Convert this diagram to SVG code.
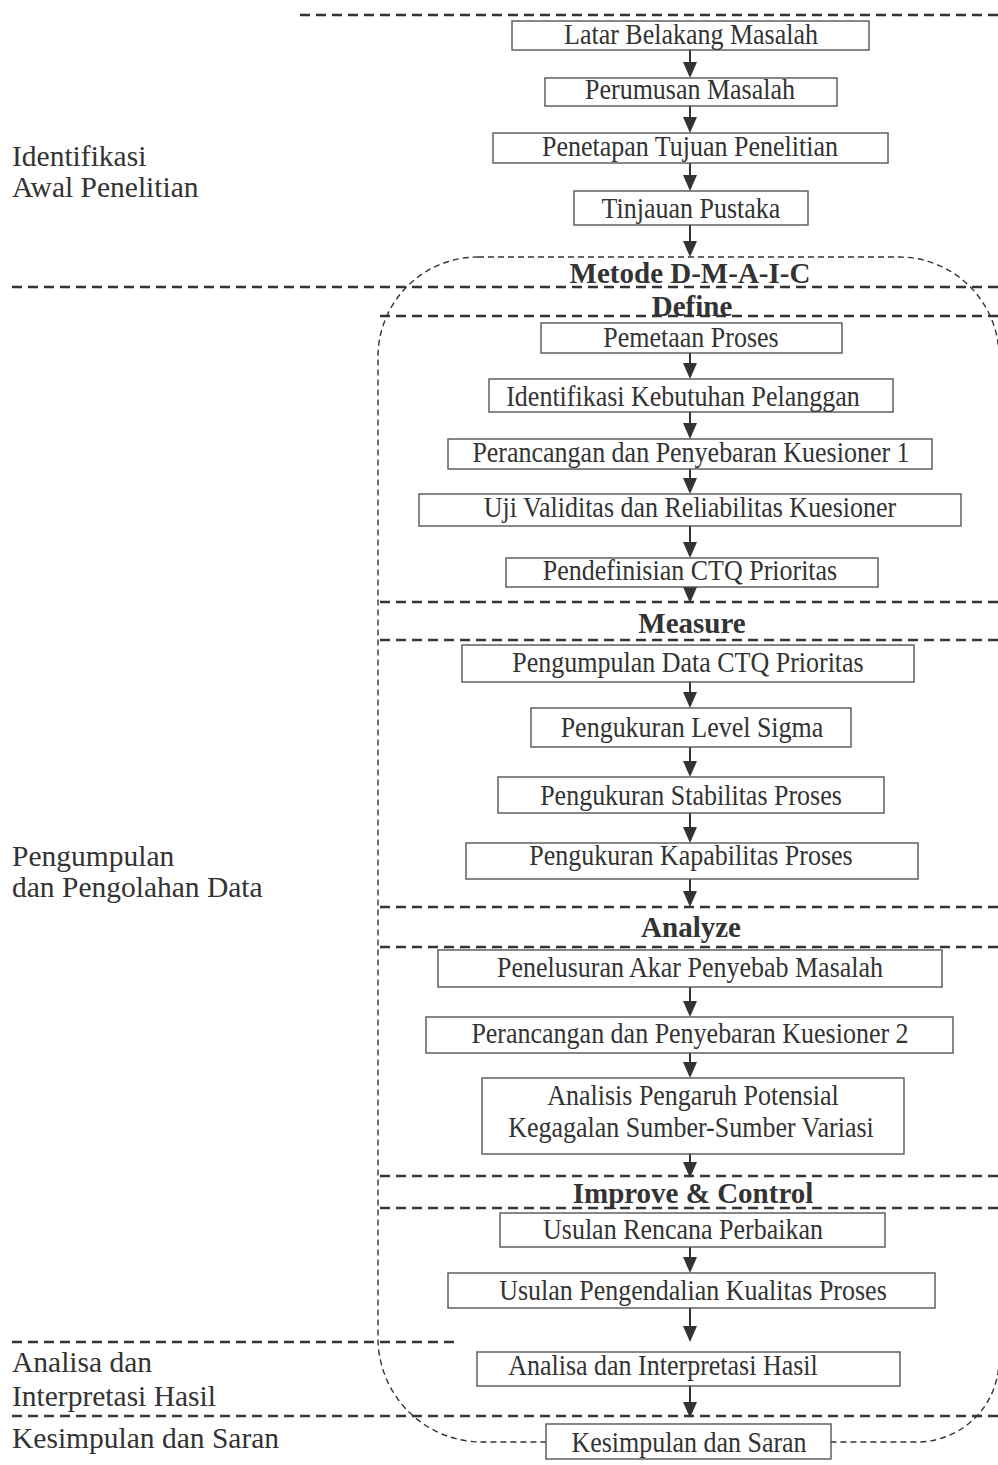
<svg xmlns="http://www.w3.org/2000/svg" width="998" height="1465" viewBox="0 0 998 1465">
<defs>
<style>
.box{fill:#fff;stroke:#555;stroke-width:1.4}
.t{font-family:"Liberation Serif","Times New Roman",serif;font-size:26px;fill:#333;text-anchor:middle}
.h{font-family:"Liberation Serif","Times New Roman",serif;font-size:29px;font-weight:bold;fill:#333;text-anchor:middle}
.lab{font-family:"Liberation Serif","Times New Roman",serif;font-size:29.5px;fill:#333}
.sec{stroke:#333;stroke-width:2.5;stroke-dasharray:10 6;fill:none}
.frame{stroke:#333;stroke-width:1.4;stroke-dasharray:6 4;fill:none}
.arr{stroke:#333;stroke-width:2;fill:none;marker-end:url(#ah)}
</style>
<marker id="ah" viewBox="0 0 16 14" refX="6" refY="7" markerWidth="16" markerHeight="14" markerUnits="userSpaceOnUse" orient="auto">
<path d="M0,0 L16,7 L0,14 z" fill="#333"/>
</marker>
</defs>
<rect width="998" height="1465" fill="#fff"/>

<g id="frame">
<path class="frame" d="M478,257 L899,257 A100,100 0 0 1 999,357 L999,1360 A82,82 0 0 1 917,1442 L482,1442 A104,104 0 0 1 378,1338 L378,357 A100,100 0 0 1 478,257 Z"/>
</g>

<g id="section-lines">
<line class="sec" x1="300" y1="15" x2="998" y2="15"/>
<line class="sec" x1="12" y1="287" x2="998" y2="287"/>
<line class="sec" x1="380" y1="316" x2="998" y2="316"/>
<line class="sec" x1="380" y1="602" x2="998" y2="602"/>
<line class="sec" x1="380" y1="640" x2="998" y2="640"/>
<line class="sec" x1="380" y1="907" x2="998" y2="907"/>
<line class="sec" x1="380" y1="947" x2="998" y2="947"/>
<line class="sec" x1="380" y1="1176" x2="998" y2="1176"/>
<line class="sec" x1="380" y1="1208" x2="998" y2="1208"/>
<line class="sec" x1="12" y1="1342" x2="455" y2="1342"/>
<line class="sec" x1="12" y1="1416" x2="998" y2="1416"/>
</g>

<g id="stage-labels">
<text class="lab" x="12" y="166">Identifikasi</text>
<text class="lab" x="12" y="197">Awal Penelitian</text>
<text class="lab" x="12" y="866">Pengumpulan</text>
<text class="lab" x="12" y="897">dan Pengolahan Data</text>
<text class="lab" x="12" y="1372">Analisa dan</text>
<text class="lab" x="12" y="1406">Interpretasi Hasil</text>
<text class="lab" x="12" y="1448">Kesimpulan dan Saran</text>
</g>

<g id="headings">
<text class="h" x="690" y="283">Metode D-M-A-I-C</text>
<text class="h" x="692" y="316">Define</text>
<text class="h" x="692" y="633">Measure</text>
<text class="h" x="691" y="937">Analyze</text>
<text class="h" x="693" y="1203">Improve &amp; Control</text>
</g>

<g id="connectors">
<line class="arr" x1="690" y1="50" x2="690" y2="68"/>
<line class="arr" x1="690" y1="106" x2="690" y2="123"/>
<line class="arr" x1="690" y1="163" x2="690" y2="181"/>
<line class="arr" x1="690" y1="225" x2="690" y2="247"/>
<line class="arr" x1="690" y1="353" x2="690" y2="369"/>
<line class="arr" x1="690" y1="412" x2="690" y2="429"/>
<line class="arr" x1="690" y1="469" x2="690" y2="484"/>
<line class="arr" x1="690" y1="526" x2="690" y2="548"/>
<line class="arr" x1="690" y1="587" x2="690" y2="593"/>
<line class="arr" x1="690" y1="682" x2="690" y2="698"/>
<line class="arr" x1="690" y1="747" x2="690" y2="767"/>
<line class="arr" x1="690" y1="813" x2="690" y2="833"/>
<line class="arr" x1="690" y1="879" x2="690" y2="897"/>
<line class="arr" x1="690" y1="987" x2="690" y2="1007"/>
<line class="arr" x1="690" y1="1053" x2="690" y2="1068"/>
<line class="arr" x1="690" y1="1154" x2="690" y2="1168"/>
<line class="arr" x1="690" y1="1247" x2="690" y2="1263"/>
<line class="arr" x1="690" y1="1308" x2="690" y2="1332"/>
<line class="arr" x1="690" y1="1386" x2="690" y2="1408"/>
</g>

<g id="n-latar"><rect class="box" x="512" y="21" width="357" height="29"/><text class="t" transform="translate(691,44) scale(1,1.15)">Latar Belakang Masalah</text></g>
<g id="n-perumusan"><rect class="box" x="545" y="78" width="292" height="28"/><text class="t" transform="translate(690,99) scale(1,1.15)">Perumusan Masalah</text></g>
<g id="n-penetapan"><rect class="box" x="493" y="133" width="395" height="30"/><text class="t" transform="translate(690,156) scale(1,1.15)">Penetapan Tujuan Penelitian</text></g>
<g id="n-tinjauan"><rect class="box" x="574" y="191" width="234" height="34"/><text class="t" transform="translate(691,218) scale(1,1.15)">Tinjauan Pustaka</text></g>

<g id="n-pemetaan"><rect class="box" x="541" y="323" width="301" height="30"/><text class="t" transform="translate(691,347) scale(1,1.15)">Pemetaan Proses</text></g>
<g id="n-identifikasi"><rect class="box" x="489" y="379" width="404" height="33"/><text class="t" transform="translate(683,406) scale(1,1.15)">Identifikasi Kebutuhan Pelanggan</text></g>
<g id="n-perancangan1"><rect class="box" x="448" y="439" width="484" height="30"/><text class="t" transform="translate(691,462) scale(1,1.15)">Perancangan dan Penyebaran Kuesioner 1</text></g>
<g id="n-uji"><rect class="box" x="419" y="494" width="542" height="32"/><text class="t" transform="translate(690,517) scale(1,1.15)">Uji Validitas dan Reliabilitas Kuesioner</text></g>
<g id="n-pendefinisian"><rect class="box" x="506" y="558" width="372" height="29"/><text class="t" transform="translate(690,580) scale(1,1.15)">Pendefinisian CTQ Prioritas</text></g>

<g id="n-pengumpulan"><rect class="box" x="462" y="645" width="452" height="37"/><text class="t" transform="translate(688,672) scale(1,1.15)">Pengumpulan Data CTQ Prioritas</text></g>
<g id="n-level"><rect class="box" x="531" y="708" width="320" height="39"/><text class="t" transform="translate(692,737) scale(1,1.15)">Pengukuran Level Sigma</text></g>
<g id="n-stabilitas"><rect class="box" x="498" y="777" width="386" height="36"/><text class="t" transform="translate(691,805) scale(1,1.15)">Pengukuran Stabilitas Proses</text></g>
<g id="n-kapabilitas"><rect class="box" x="466" y="843" width="452" height="36"/><text class="t" transform="translate(691,865) scale(1,1.15)">Pengukuran Kapabilitas Proses</text></g>

<g id="n-penelusuran"><rect class="box" x="438" y="950" width="504" height="37"/><text class="t" transform="translate(690,977) scale(1,1.15)">Penelusuran Akar Penyebab Masalah</text></g>
<g id="n-perancangan2"><rect class="box" x="426" y="1017" width="527" height="36"/><text class="t" transform="translate(690,1043) scale(1,1.15)">Perancangan dan Penyebaran Kuesioner 2</text></g>
<g id="n-analisis"><rect class="box" x="482" y="1078" width="422" height="76"/><text class="t" transform="translate(693,1105) scale(1,1.15)">Analisis Pengaruh Potensial</text><text class="t" transform="translate(691,1137) scale(1,1.15)">Kegagalan Sumber-Sumber Variasi</text></g>

<g id="n-usulan-rencana"><rect class="box" x="500" y="1213" width="385" height="34"/><text class="t" transform="translate(683,1239) scale(1,1.15)">Usulan Rencana Perbaikan</text></g>
<g id="n-usulan-pengendalian"><rect class="box" x="448" y="1273" width="487" height="35"/><text class="t" transform="translate(693,1300) scale(1,1.15)">Usulan Pengendalian Kualitas Proses</text></g>
<g id="n-analisa"><rect class="box" x="477" y="1352" width="423" height="34"/><text class="t" transform="translate(663,1375) scale(1,1.15)">Analisa dan Interpretasi Hasil</text></g>
<g id="n-kesimpulan"><rect class="box" x="546" y="1424" width="285" height="35"/><text class="t" transform="translate(689,1452) scale(1,1.15)">Kesimpulan dan Saran</text></g>
</svg>
